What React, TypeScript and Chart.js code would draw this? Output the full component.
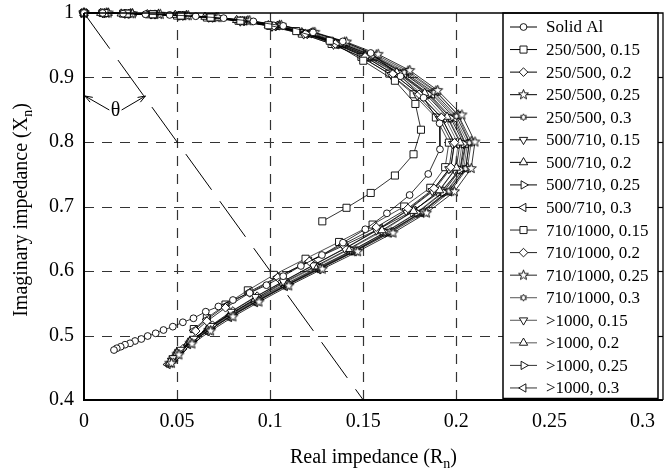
import React, { useEffect, useRef } from 'react';
import { Chart, registerables } from 'chart.js';
import { drawPoint } from 'chart.js/helpers';

Chart.register(...registerables);

// ---------------- data ----------------
const SERIES_LABELS = [
  'Solid Al',
  '250/500, 0.15', '250/500, 0.2', '250/500, 0.25', '250/500, 0.3',
  '500/710, 0.15', '500/710, 0.2', '500/710, 0.25', '500/710, 0.3',
  '710/1000, 0.15', '710/1000, 0.2', '710/1000, 0.25', '710/1000, 0.3',
  '>1000, 0.15', '>1000, 0.2', '>1000, 0.25', '>1000, 0.3',
];

const X_TICKS = [0, 0.05, 0.1, 0.15, 0.2, 0.25, 0.3];
const Y_TICKS = [0.4, 0.5, 0.6, 0.7, 0.8, 0.9, 1];
const X_GRID = [0.05, 0.1, 0.15, 0.2];
const Y_GRID = [0.5, 0.6, 0.7, 0.8, 0.9];
const X_LIMITS = [0, 0.311];
const Y_LIMITS = [0.4, 1];

// reference line (angle theta) and its arrows
const ANGLE_LINE = [[0, 1], [0.15, 0.4]];
const THETA_LEFT_ARROW = [[0.0136, 0.8496], [0.0005, 0.8713]];
const THETA_RIGHT_ARROW = [[0.0202, 0.8496], [0.033, 0.8713]];
const THETA_LABEL = [0.0169, 0.848];

const SOLID_AL = [
  [0, 1], [0.010, 1], [0.021, 0.999], [0.033, 0.998], [0.046, 0.997], [0.060, 0.995], [0.075, 0.992],
  [0.091, 0.987], [0.107, 0.980], [0.123, 0.970], [0.139, 0.956], [0.154, 0.938], [0.170, 0.902],
  [0.1824, 0.8687], [0.191, 0.829], [0.1912, 0.7887], [0.1849, 0.7504], [0.1749, 0.7178], [0.1627, 0.6894],
  [0.1511, 0.6647], [0.1391, 0.6439], [0.1278, 0.6248], [0.1165, 0.6078], [0.107, 0.592], [0.098, 0.578],
  [0.089, 0.566], [0.080, 0.555], [0.0722, 0.545], [0.0654, 0.5369], [0.0588, 0.5267], [0.0531, 0.5205],
  [0.0477, 0.5137], [0.0427, 0.5085], [0.0385, 0.5034], [0.0342, 0.4992], [0.0308, 0.4946], [0.0274, 0.4915],
  [0.0247, 0.4879], [0.022, 0.4857], [0.0197, 0.4826], [0.0176, 0.4802], [0.0161, 0.4775],
];
const S250_015 = [
  [0, 1], [0.011, 1], [0.023, 0.999], [0.037, 0.998], [0.052, 0.996], [0.068, 0.993], [0.084, 0.988],
  [0.099, 0.981], [0.114, 0.972], [0.132, 0.957], [0.150, 0.926], [0.167, 0.895], [0.178, 0.859],
  [0.181, 0.819], [0.177, 0.781], [0.167, 0.748], [0.154, 0.721], [0.141, 0.698], [0.128, 0.677],
];
const S250_02 = [
  [0, 1], [0.011, 1], [0.023, 0.999], [0.037, 0.998], [0.052, 0.996], [0.068, 0.993], [0.085, 0.988],
  [0.102, 0.980], [0.119, 0.968], [0.135, 0.952], [0.151, 0.932], [0.166, 0.906], [0.180, 0.874],
  [0.192, 0.838], [0.199, 0.799], [0.197, 0.761], [0.188, 0.728], [0.174, 0.697], [0.157, 0.668],
  [0.139, 0.641], [0.121, 0.615], [0.104, 0.590], [0.089, 0.566], [0.076, 0.543], [0.066, 0.522], [0.060, 0.507],
];
const S250_025 = [
  [0, 1], [0.013, 1], [0.026, 0.999], [0.041, 0.998], [0.056, 0.996], [0.072, 0.993], [0.089, 0.988],
  [0.106, 0.981], [0.124, 0.970], [0.141, 0.955], [0.158, 0.936], [0.175, 0.911], [0.190, 0.880],
  [0.203, 0.842], [0.210, 0.800], [0.208, 0.759], [0.199, 0.723], [0.184, 0.690], [0.166, 0.659],
  [0.147, 0.630], [0.128, 0.603], [0.110, 0.577], [0.094, 0.552], [0.080, 0.529], [0.068, 0.507],
  [0.058, 0.487], [0.051, 0.470], [0.047, 0.457],
];
const S250_03 = [
  [0, 1], [0.012, 1], [0.024, 0.999], [0.038, 0.998], [0.053, 0.996], [0.069, 0.993], [0.086, 0.988],
  [0.103, 0.980], [0.121, 0.969], [0.138, 0.953], [0.155, 0.934], [0.172, 0.908], [0.188, 0.877],
  [0.200, 0.840], [0.207, 0.799], [0.205, 0.759], [0.196, 0.724], [0.182, 0.692], [0.164, 0.661],
  [0.146, 0.632], [0.127, 0.605], [0.110, 0.580], [0.094, 0.555], [0.080, 0.532], [0.068, 0.510],
  [0.058, 0.490], [0.051, 0.473], [0.048, 0.460],
];
const S500_015 = [
  [0, 1], [0.010, 1], [0.022, 0.999], [0.036, 0.998], [0.051, 0.996], [0.067, 0.993], [0.084, 0.987],
  [0.101, 0.979], [0.118, 0.967], [0.134, 0.951], [0.150, 0.930], [0.165, 0.904], [0.179, 0.872],
  [0.191, 0.836], [0.198, 0.797], [0.196, 0.758], [0.187, 0.724], [0.173, 0.693], [0.157, 0.663],
  [0.140, 0.635], [0.123, 0.609], [0.107, 0.584], [0.092, 0.560], [0.079, 0.537], [0.068, 0.515],
  [0.059, 0.495], [0.052, 0.478], [0.048, 0.465],
];
const S500_02 = [
  [0, 1], [0.009, 1], [0.020, 0.999], [0.034, 0.998], [0.049, 0.997], [0.065, 0.994], [0.082, 0.989],
  [0.099, 0.981], [0.117, 0.970], [0.134, 0.954], [0.151, 0.934], [0.168, 0.908], [0.183, 0.876],
  [0.195, 0.839], [0.202, 0.799], [0.200, 0.760], [0.191, 0.725], [0.177, 0.693], [0.160, 0.663],
  [0.142, 0.634], [0.124, 0.607], [0.107, 0.582], [0.092, 0.557], [0.079, 0.534], [0.067, 0.512],
  [0.057, 0.491], [0.050, 0.473], [0.046, 0.458],
];
const S500_025 = [
  [0, 1], [0.011, 1], [0.023, 0.999], [0.037, 0.998], [0.052, 0.996], [0.068, 0.993], [0.085, 0.987],
  [0.102, 0.979], [0.120, 0.968], [0.137, 0.952], [0.154, 0.932], [0.170, 0.906], [0.185, 0.874],
  [0.197, 0.837], [0.204, 0.797], [0.202, 0.757], [0.193, 0.722], [0.179, 0.690], [0.162, 0.660],
  [0.144, 0.632], [0.126, 0.606], [0.109, 0.581], [0.093, 0.557], [0.079, 0.534], [0.067, 0.512],
  [0.058, 0.492], [0.051, 0.475], [0.047, 0.462],
];
const S500_03 = [
  [0, 1], [0.012, 1], [0.024, 0.999], [0.038, 0.998], [0.053, 0.996], [0.069, 0.993], [0.086, 0.988],
  [0.104, 0.980], [0.121, 0.968], [0.139, 0.952], [0.156, 0.932], [0.172, 0.906], [0.187, 0.874],
  [0.199, 0.837], [0.205, 0.797], [0.202, 0.757], [0.192, 0.724], [0.177, 0.694], [0.159, 0.666],
  [0.140, 0.640], [0.121, 0.615], [0.104, 0.591], [0.089, 0.568], [0.076, 0.546], [0.066, 0.525], [0.059, 0.508],
];
const S710_015 = [
  [0, 1], [0.010, 1], [0.021, 0.999], [0.035, 0.998], [0.050, 0.996], [0.066, 0.993], [0.083, 0.988],
  [0.100, 0.980], [0.117, 0.968], [0.133, 0.952], [0.149, 0.932], [0.164, 0.906], [0.177, 0.874],
  [0.189, 0.838], [0.196, 0.799], [0.194, 0.761], [0.186, 0.729], [0.172, 0.700], [0.155, 0.672],
  [0.137, 0.645], [0.119, 0.619], [0.102, 0.594], [0.088, 0.570], [0.076, 0.548], [0.066, 0.527], [0.059, 0.510],
];
const S710_02 = [
  [0, 1], [0.011, 1], [0.022, 0.999], [0.036, 0.998], [0.051, 0.996], [0.067, 0.993], [0.084, 0.988],
  [0.101, 0.980], [0.118, 0.968], [0.135, 0.952], [0.151, 0.932], [0.166, 0.906], [0.180, 0.874],
  [0.192, 0.838], [0.199, 0.798], [0.197, 0.759], [0.188, 0.725], [0.174, 0.694], [0.158, 0.664],
  [0.141, 0.636], [0.124, 0.610], [0.108, 0.585], [0.093, 0.561], [0.080, 0.538], [0.069, 0.516],
  [0.060, 0.496], [0.053, 0.479], [0.049, 0.466],
];
const S710_025 = [
  [0, 1], [0.012, 1], [0.025, 0.999], [0.040, 0.998], [0.055, 0.996], [0.071, 0.993], [0.088, 0.988],
  [0.105, 0.981], [0.123, 0.970], [0.140, 0.955], [0.157, 0.935], [0.174, 0.910], [0.189, 0.879],
  [0.201, 0.842], [0.208, 0.801], [0.206, 0.760], [0.197, 0.724], [0.183, 0.691], [0.165, 0.660],
  [0.146, 0.631], [0.127, 0.604], [0.109, 0.578], [0.093, 0.553], [0.079, 0.530], [0.067, 0.508],
  [0.057, 0.488], [0.050, 0.471], [0.046, 0.457],
];
const S710_03 = [
  [0, 1], [0.010, 1], [0.022, 0.999], [0.036, 0.998], [0.051, 0.996], [0.067, 0.993], [0.084, 0.988],
  [0.102, 0.980], [0.120, 0.969], [0.137, 0.953], [0.154, 0.933], [0.171, 0.908], [0.187, 0.877],
  [0.199, 0.840], [0.206, 0.799], [0.204, 0.759], [0.195, 0.723], [0.181, 0.691], [0.163, 0.660],
  [0.145, 0.632], [0.126, 0.605], [0.109, 0.579], [0.093, 0.555], [0.079, 0.532], [0.067, 0.510],
  [0.057, 0.490], [0.050, 0.473], [0.047, 0.460],
];
const S1000_015 = [
  [0, 1], [0.011, 1], [0.024, 0.999], [0.038, 0.998], [0.053, 0.996], [0.069, 0.993], [0.086, 0.988],
  [0.103, 0.980], [0.120, 0.968], [0.136, 0.952], [0.152, 0.932], [0.168, 0.906], [0.182, 0.874],
  [0.194, 0.837], [0.201, 0.797], [0.199, 0.757], [0.190, 0.722], [0.176, 0.691], [0.160, 0.661],
  [0.142, 0.633], [0.125, 0.607], [0.108, 0.582], [0.093, 0.558], [0.080, 0.535], [0.068, 0.513],
  [0.058, 0.492], [0.051, 0.475], [0.047, 0.461],
];
const S1000_02 = [
  [0, 1], [0.013, 1], [0.026, 0.999], [0.040, 0.998], [0.055, 0.996], [0.071, 0.992], [0.088, 0.987],
  [0.105, 0.979], [0.122, 0.967], [0.139, 0.951], [0.155, 0.931], [0.170, 0.905], [0.185, 0.873],
  [0.196, 0.836], [0.203, 0.796], [0.201, 0.756], [0.192, 0.721], [0.178, 0.689], [0.161, 0.659],
  [0.143, 0.630], [0.125, 0.603], [0.108, 0.578], [0.092, 0.554], [0.078, 0.531], [0.066, 0.509],
  [0.056, 0.489], [0.049, 0.471], [0.046, 0.456],
];
const S1000_025 = [
  [0, 1], [0.012, 1], [0.025, 0.999], [0.039, 0.998], [0.054, 0.996], [0.070, 0.993], [0.087, 0.987],
  [0.104, 0.979], [0.121, 0.967], [0.138, 0.951], [0.155, 0.931], [0.171, 0.905], [0.186, 0.873],
  [0.198, 0.836], [0.205, 0.796], [0.203, 0.756], [0.194, 0.721], [0.180, 0.689], [0.163, 0.659],
  [0.145, 0.631], [0.127, 0.605], [0.110, 0.580], [0.094, 0.556], [0.080, 0.533], [0.068, 0.511],
  [0.058, 0.491], [0.051, 0.474], [0.048, 0.461],
];
const S1000_03 = [
  [0, 1], [0.011, 1], [0.023, 0.999], [0.037, 0.998], [0.052, 0.996], [0.068, 0.993], [0.085, 0.988],
  [0.103, 0.981], [0.121, 0.970], [0.139, 0.954], [0.156, 0.934], [0.173, 0.909], [0.189, 0.878],
  [0.201, 0.841], [0.207, 0.800], [0.205, 0.759], [0.196, 0.723], [0.181, 0.690], [0.164, 0.659],
  [0.145, 0.630], [0.126, 0.602], [0.108, 0.576], [0.092, 0.551], [0.078, 0.528], [0.066, 0.506],
  [0.056, 0.486], [0.049, 0.468], [0.045, 0.455],
];

const SERIES_DATA = [
  SOLID_AL, S250_015, S250_02, S250_025, S250_03, S500_015, S500_02, S500_025, S500_03,
  S710_015, S710_02, S710_025, S710_03, S1000_015, S1000_02, S1000_025, S1000_03,
];

// ---------------- styles ----------------
// marker kind, rotation, radius, line colour
const MARKERS = [
  ['circle', 0, 3.4, '#000'],
  ['rect', 0, 5, '#000'],
  ['rectRot', 0, 4.3, '#000'],
  ['star5', 0, 0, '#000'],
  ['star6', 0, 0, '#000'],
  ['triangle', 180, 4.8, '#000'],
  ['triangle', 0, 4.8, '#000'],
  ['triangle', 90, 4.8, '#000'],
  ['triangle', 270, 4.8, '#000'],
  ['rect', 0, 5, '#222'],
  ['rectRot', 0, 4.3, '#222'],
  ['star5', 0, 0, '#222'],
  ['star6', 0, 0, '#555'],
  ['triangle', 180, 4.8, '#555'],
  ['triangle', 0, 4.8, '#555'],
  ['triangle', 90, 4.8, '#333'],
  ['triangle', 270, 4.8, '#333'],
];

const FONT = '"Liberation Serif", "Times New Roman", serif';

function makeStar(n: number, ro: number, ri: number, lw: number) {
  const size = Math.ceil(2 * ro + 2 * lw + 2);
  const c = document.createElement('canvas');
  c.width = size;
  c.height = size;
  const g = c.getContext('2d')!;
  const cx = size / 2;
  g.beginPath();
  for (let k = 0; k < 2 * n; k++) {
    const r = k % 2 ? ri : ro;
    const ang = -Math.PI / 2 + (k * Math.PI) / n;
    g.lineTo(cx + r * Math.cos(ang), cx + r * Math.sin(ang));
  }
  g.closePath();
  g.fillStyle = '#fff';
  g.fill();
  g.lineWidth = lw;
  g.strokeStyle = '#000';
  g.stroke();
  return c;
}

function drawTitle(ctx: CanvasRenderingContext2D, main: string, sub: string, close: string, cx: number, cy: number, rotate: boolean) {
  ctx.save();
  ctx.translate(cx, cy);
  if (rotate) ctx.rotate(-Math.PI / 2);
  ctx.fillStyle = '#000';
  ctx.textBaseline = 'alphabetic';
  ctx.textAlign = 'left';
  const big = '20px ' + FONT;
  const small = '14px ' + FONT;
  ctx.font = big;
  const w1 = ctx.measureText(main).width;
  const w3 = ctx.measureText(close).width;
  ctx.font = small;
  const w2 = ctx.measureText(sub).width;
  let x = -(w1 + w2 + w3) / 2;
  ctx.font = big;
  ctx.fillText(main, x, 0);
  x += w1;
  ctx.font = small;
  ctx.fillText(sub, x, 5);
  x += w2;
  ctx.font = big;
  ctx.fillText(close, x, 0);
  ctx.restore();
}

function arrow(ctx: CanvasRenderingContext2D, x0: number, y0: number, x1: number, y1: number) {
  ctx.beginPath();
  ctx.moveTo(x0, y0);
  ctx.lineTo(x1, y1);
  ctx.stroke();
  const a = Math.atan2(y1 - y0, x1 - x0);
  const L = 8, W = 0.35;
  ctx.beginPath();
  ctx.moveTo(x1 - L * Math.cos(a - W), y1 - L * Math.sin(a - W));
  ctx.lineTo(x1, y1);
  ctx.lineTo(x1 - L * Math.cos(a + W), y1 - L * Math.sin(a + W));
  ctx.stroke();
}

export default function App() {
  const ref = useRef<HTMLCanvasElement>(null);

  useEffect(() => {
    const canvas = ref.current!;
    const star5 = makeStar(5, 5.2, 2.2, 0.9);
    const star6 = makeStar(6, 3.4, 1.9, 0.9);

    const styleFor = (m: any) => {
      if (m[0] === 'star5') return { pointStyle: star5, radius: 5 };
      if (m[0] === 'star6') return { pointStyle: star6, radius: 4 };
      return { pointStyle: m[0], radius: m[2] };
    };

    const datasets: any[] = SERIES_DATA.map((arr, i) => {
      const m: any = MARKERS[i];
      const st = styleFor(m);
      return {
        label: SERIES_LABELS[i],
        data: arr.map(([x, y]) => ({ x, y })),
        showLine: true,
        borderColor: m[3],
        borderWidth: 0.8,
        pointStyle: st.pointStyle,
        pointRadius: st.radius,
        pointRotation: m[1],
        pointBackgroundColor: '#fff',
        pointBorderColor: '#000',
        pointBorderWidth: 0.9,
        tension: 0,
        clip: false,
      };
    });
    datasets.push({
      label: 'angle',
      data: ANGLE_LINE.map(([x, y]) => ({ x, y })),
      showLine: true,
      borderColor: '#000',
      borderWidth: 1,
      borderDash: [44, 14],
      pointRadius: 0,
      tension: 0,
    });

    const overlay = {
      id: 'overlay',
      beforeDatasetsDraw(chart: any) {
        const { ctx, chartArea: a, scales } = chart;
        ctx.save();
        ctx.strokeStyle = '#333';
        ctx.lineWidth = 1.2;
        ctx.setLineDash([10, 8]);
        X_GRID.forEach((v) => {
          const x = Math.round(scales.x.getPixelForValue(v)) + 0.5;
          ctx.beginPath();
          ctx.moveTo(x, a.bottom);
          ctx.lineTo(x, a.top);
          ctx.stroke();
        });
        Y_GRID.forEach((v) => {
          const y = Math.round(scales.y.getPixelForValue(v)) + 0.5;
          ctx.beginPath();
          ctx.moveTo(a.left, y);
          ctx.lineTo(a.right, y);
          ctx.stroke();
        });
        ctx.restore();
      },
      afterDraw(chart: any) {
        const { ctx, chartArea: a, scales } = chart;
        const px = (p: number[]) => [scales.x.getPixelForValue(p[0]), scales.y.getPixelForValue(p[1])];

        // theta annotation
        ctx.save();
        ctx.strokeStyle = '#000';
        ctx.lineWidth = 1;
        const l0 = px(THETA_LEFT_ARROW[0]), l1 = px(THETA_LEFT_ARROW[1]);
        const r0 = px(THETA_RIGHT_ARROW[0]), r1 = px(THETA_RIGHT_ARROW[1]);
        arrow(ctx, l0[0], l0[1], l1[0], l1[1]);
        arrow(ctx, r0[0], r0[1], r1[0], r1[1]);
        const t = px(THETA_LABEL);
        ctx.fillStyle = '#000';
        ctx.font = '20px ' + FONT;
        ctx.textAlign = 'center';
        ctx.textBaseline = 'middle';
        ctx.fillText('θ', t[0], t[1]);
        ctx.restore();

        // legend
        ctx.save();
        const right = a.right - 5;
        const left = right - 155;
        const top = a.top;
        const bottom = a.bottom - 1.5;
        ctx.fillStyle = '#fff';
        ctx.fillRect(left, top, right - left, bottom - top);
        ctx.strokeStyle = '#000';
        ctx.lineWidth = 1.5;
        ctx.strokeRect(left, top, right - left, bottom - top);
        const n = SERIES_LABELS.length;
        const rowH = 22.56;
        for (let i = 0; i < n; i++) {
          const ds = chart.data.datasets[i];
          const y = top + 14 + i * rowH;
          ctx.strokeStyle = ds.borderColor;
          ctx.lineWidth = 1;
          ctx.beginPath();
          ctx.moveTo(left + 7, y);
          ctx.lineTo(left + 34, y);
          ctx.stroke();
          ctx.fillStyle = '#fff';
          ctx.strokeStyle = '#000';
          ctx.lineWidth = 0.9;
          drawPoint(ctx, { pointStyle: ds.pointStyle, rotation: ds.pointRotation, radius: ds.pointRadius, borderWidth: 0.9 } as any, left + 20.5, y);
          ctx.fillStyle = '#000';
          ctx.font = '17px ' + FONT;
          ctx.textAlign = 'left';
          ctx.textBaseline = 'middle';
          ctx.fillText(SERIES_LABELS[i], left + 43, y + 1);
        }
        ctx.restore();

        // frame
        ctx.save();
        ctx.strokeStyle = '#000';
        ctx.lineWidth = 1.3;
        ctx.beginPath();
        ctx.moveTo(a.left, a.top);
        ctx.lineTo(a.right, a.top);
        ctx.lineTo(a.right, a.bottom);
        ctx.stroke();
        ctx.lineWidth = 2;
        ctx.beginPath();
        ctx.moveTo(a.left, a.top);
        ctx.lineTo(a.left, a.bottom);
        ctx.lineTo(a.right, a.bottom);
        ctx.stroke();
        ctx.lineWidth = 1.2;
        Y_GRID.forEach((v) => {
          const y = Math.round(scales.y.getPixelForValue(v)) + 0.5;
          ctx.beginPath();
          ctx.moveTo(a.right, y);
          ctx.lineTo(a.right - 5, y);
          ctx.stroke();
        });
        ctx.restore();

        // axis titles
        drawTitle(ctx, 'Real impedance (R', 'n', ')', (a.left + a.right) / 2, 463, false);
        drawTitle(ctx, 'Imaginary impedance (X', 'n', ')', 27, 210, true);
      },
    };

    const fmt = (v: number) => String(Math.round(v * 100) / 100);

    const chart = new Chart(canvas, {
      type: 'line',
      data: { datasets },
      options: {
        animation: false,
        responsive: false,
        devicePixelRatio: 1,
        events: [],
        layout: { padding: { top: 13, right: 9, left: 0, bottom: 0 } },
        plugins: { legend: { display: false }, tooltip: { enabled: false } },
        scales: {
          x: {
            type: 'linear',
            min: X_LIMITS[0],
            max: X_LIMITS[1],
            afterBuildTicks: (s: any) => { s.ticks = X_TICKS.map((value) => ({ value })); },
            afterFit: (s: any) => { s.height = 74; s.paddingLeft = 0; s.paddingRight = 0; },
            grid: { display: false, drawTicks: false },
            border: { display: false },
            ticks: { color: '#000', font: { family: FONT, size: 20 }, padding: 10, maxRotation: 0, autoSkip: false, callback: (v: any) => fmt(v) },
          },
          y: {
            type: 'linear',
            min: Y_LIMITS[0],
            max: Y_LIMITS[1],
            afterBuildTicks: (s: any) => { s.ticks = Y_TICKS.map((value) => ({ value })); },
            afterFit: (s: any) => { s.width = 84; s.paddingTop = 0; s.paddingBottom = 0; },
            grid: { display: false, drawTicks: false },
            border: { display: false },
            ticks: { color: '#000', font: { family: FONT, size: 20 }, padding: 10, autoSkip: false, callback: (v: any) => fmt(v) },
          },
        },
      },
      plugins: [overlay],
    } as any);

    return () => chart.destroy();
  }, []);

  return (
    <div style={{ position: 'fixed', left: 0, top: 0, width: 672, height: 474, background: '#fff' }}>
      <canvas ref={ref} width={672} height={474} style={{ display: 'block', width: 672, height: 474 }} />
    </div>
  );
}
